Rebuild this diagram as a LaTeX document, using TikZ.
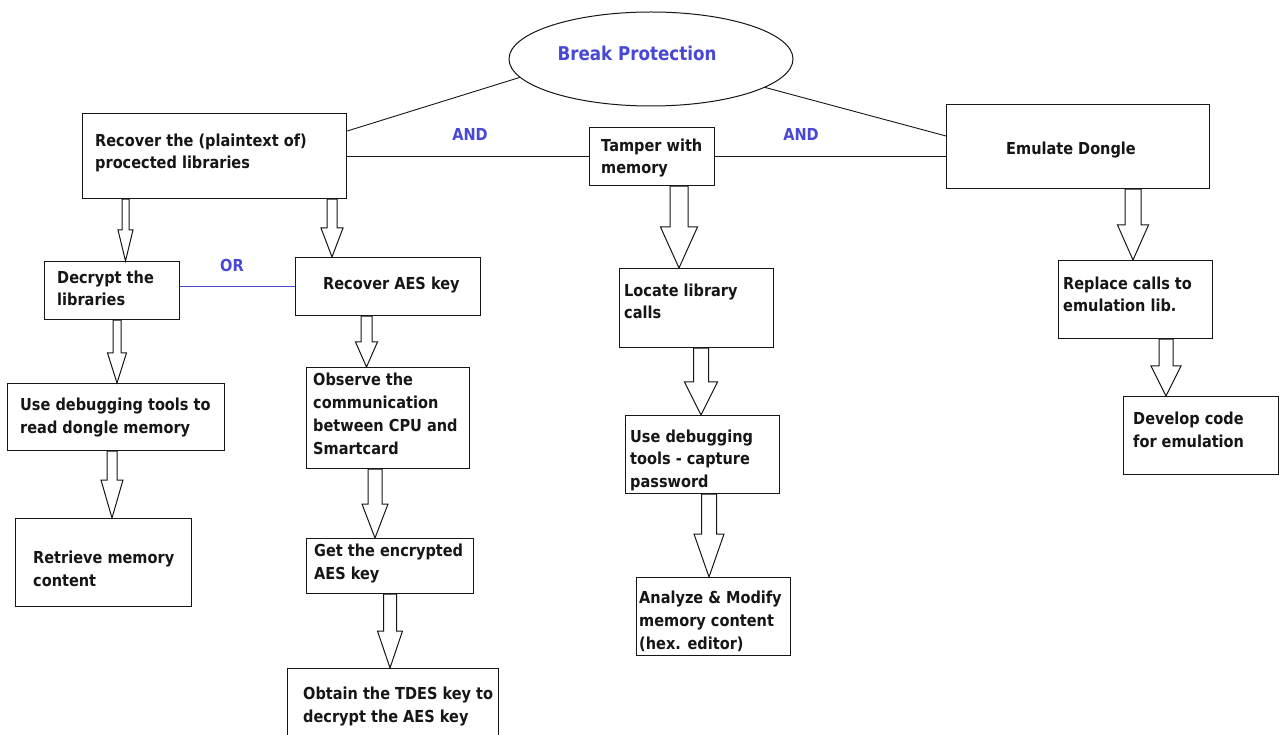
\documentclass[tikz,border=0pt]{standalone}
\usepackage{fontspec}
\setmainfont{DejaVu Sans}[FakeStretch=0.88]
\usetikzlibrary{shapes.geometric,calc}
\definecolor{ink}{RGB}{22,22,22}
\definecolor{logicblue}{RGB}{72,72,212}

% rectangle given by its name and left, top, right, bottom edges
\newcommand\stepbox[5]{%
  \node[box,minimum width={#4-#2},minimum height={#5-#3}] (#1) at (#2,#3) {};}
% hollow block arrow: source, target, x, shaft half-width, head half-width, head length
\newcommand\blockarr[6]{%
  \draw[blockarrow] let \p1=(#1.south -| #3,0), \p2=(#2.north -| #3,0) in
    (\x1-#4pt,\y1) -- (\x1-#4pt,\y2+#6pt) -- (\x1-#5pt,\y2+#6pt) -- (\p2)
    -- (\x1+#5pt,\y2+#6pt) -- (\x1+#4pt,\y2+#6pt) -- (\x1+#4pt,\y1) -- cycle;}

\begin{document}
\begin{tikzpicture}[x=1pt,y=-1pt,
  box/.style={draw=ink,line width=1.2pt,inner sep=0pt,anchor=north west,fill=white},
  % multi-line texts are placed by the baseline of their last line
  txt/.style={anchor=base west,align=left,inner sep=0pt,text=ink,
    font=\fontsize{16.5}{22.7}\selectfont\bfseries},
  logic/.style={anchor=base,inner sep=0pt,text=logicblue,
    font=\fontsize{16.5}{20}\selectfont\bfseries},
  link/.style={draw=ink,line width=0.9pt},
  blockarrow/.style={draw=ink,line width=1pt,fill=white,line join=miter}]

\fill[white] (0,0) rectangle (1283,735);
\useasboundingbox (0,0) rectangle (1283,735);

% goal
\node[draw=ink,ellipse,line width=1pt,minimum width=284,minimum height=94,inner sep=0pt] (bp) at (651,59) {};
\node[anchor=base,inner sep=0pt,text=logicblue,font=\fontsize{19}{22}\selectfont\bfseries] (bp-t) at (637,61) {Break Protection};

% boxes
\stepbox{rec}{82}{113}{346}{198}
\stepbox{tam}{589}{127}{714}{185}
\stepbox{emu}{946}{104}{1209}{188}
\stepbox{dec}{44}{261}{179}{319}
\stepbox{aes}{295}{257}{480}{315}
\stepbox{loc}{619}{268}{773}{347}
\stepbox{rep}{1058}{260}{1212}{338}
\stepbox{dev}{1123}{396}{1278}{474}
\stepbox{use1}{7}{383}{224}{450}
\stepbox{ret}{15}{518}{191}{606}
\stepbox{obs}{306}{367}{469}{468}
\stepbox{get}{306}{538}{473}{593}
\stepbox{obt}{287}{668}{498}{770}
\stepbox{use2}{625}{415}{779}{493}
\stepbox{ana}{636}{577}{790}{655}

% box texts
\node[txt] (rec-t) at (95,169) {Recover the (plaintext of)\\procected libraries};
\node[txt] (tam-t) at (601,174) {Tamper with\\memory};
\node[txt] (emu-t) at (1006,155) {Emulate Dongle};
\node[txt] (dec-t) at (57,306) {Decrypt the\\libraries};
\node[txt] (aes-t) at (323,290) {Recover AES key};
\node[txt] (loc-t) at (624,319) {Locate library\\calls};
\node[txt] (rep-t) at (1063,312) {Replace calls to\\emulation lib.};
\node[txt] (dev-t) at (1133,447) {Develop code\\for emulation};
\node[txt] (use1-t) at (20,433) {Use debugging tools to\\read dongle memory};
\node[txt] (ret-t) at (33,586) {Retrieve memory\\content};
\node[txt] (obs-t) at (313,454) {Observe the\\communication\\between CPU and\\Smartcard};
\node[txt] (get-t) at (314,579) {Get the encrypted\\AES key};
\node[txt] (obt-t) at (303,722) {Obtain the TDES key to\\decrypt the AES key};
\node[txt] (use2-t) at (630,487.5) {Use debugging\\tools - capture\\password};
\node[txt] (ana-t) at (639,649) {Analyze \& Modify\\memory content\\(hex. editor)};

% AND decomposition of the goal
\draw[link] (bp.188) -- (rec.east |- 0,131);
\draw[link] (bp.346) -- (emu.west |- 0,136);
\draw[link] (rec.east) -- (rec.east -| tam.west);
\draw[link] (tam.east) -- (tam.east -| emu.west);
\node[logic] (and1) at (470,141) {AND};
\node[logic] (and2) at (801,141) {AND};

% OR alternative
\draw[draw=logicblue,line width=1pt] (dec.east |- 0,287) -- (aes.west |- 0,287);
\node[logic] (or) at (232,272) {OR};

% refinement arrows
\blockarr{rec}{dec}{125.5}{3.5}{7.5}{31}
\blockarr{rec}{aes}{332}{5}{11}{29}
\blockarr{tam}{loc}{679}{9}{18.5}{41}
\blockarr{emu}{rep}{1133}{8}{15.5}{35}
\blockarr{rep}{dev}{1166}{7}{15}{30}
\blockarr{dec}{use1}{117}{4}{9.5}{30}
\blockarr{use1}{ret}{112}{5}{11}{38}
\blockarr{aes}{obs}{366.5}{5.5}{11}{25}
\blockarr{obs}{get}{375}{7}{13}{34}
\blockarr{get}{obt}{390}{6.5}{12.5}{37}
\blockarr{loc}{use2}{701}{7.5}{16.5}{33}
\blockarr{use2}{ana}{709}{7.5}{15}{43}

\end{tikzpicture}
\end{document}
